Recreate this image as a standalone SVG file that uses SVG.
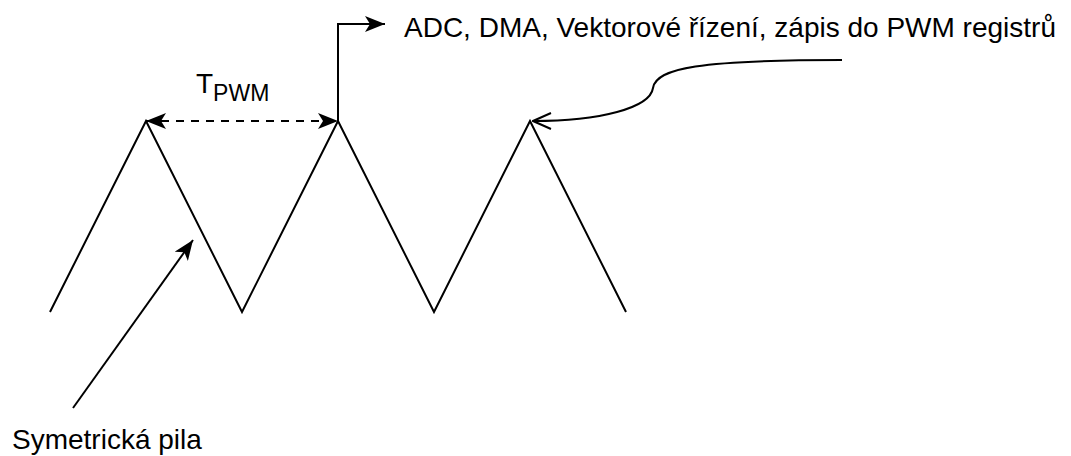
<svg xmlns="http://www.w3.org/2000/svg" width="1071" height="456" viewBox="0 0 1071 456">
  <defs>
    <style>
      .ln { fill: none; stroke: #000; stroke-width: 2; stroke-linejoin: miter; }
      .txt { font-family: "Liberation Sans", Arial, sans-serif; fill: #000; }
    </style>
    <marker id="classic" viewBox="0 0 20 16" refX="20" refY="8" markerWidth="20" markerHeight="16" markerUnits="userSpaceOnUse" orient="auto-start-reverse">
      <path d="M0,0 L20,8 L0,16 L5,8 Z" fill="#000"/>
    </marker>
    <marker id="open" viewBox="0 0 20 20" refX="19" refY="10" markerWidth="20" markerHeight="20" markerUnits="userSpaceOnUse" orient="auto">
      <path d="M1,2 L19,10 L1,18" fill="none" stroke="#000" stroke-width="2"/>
    </marker>
  </defs>
  <rect width="1071" height="456" fill="#fff"/>

  <g id="saw">
    <polyline class="ln" points="50,312 146,121 242,312 338,121 434,312 530,121 626,312"/>
  </g>

  <g id="label-tpwm">
    <text class="txt" x="196" y="93" font-size="28">T<tspan font-size="23" dy="8">PWM</tspan></text>
  </g>

  <g id="label-adc">
    <text class="txt" x="404" y="37" font-size="28">ADC, DMA, Vektorové řízení, zápis do PWM registrů</text>
  </g>

  <g id="label-pila">
    <text class="txt" x="12" y="449" font-size="28">Symetrická pila</text>
  </g>

  <g id="connectors">
    <line class="ln" x1="146" y1="121" x2="338" y2="121" stroke-dasharray="8 7" marker-start="url(#classic)" marker-end="url(#classic)"/>
    <polyline class="ln" points="338,121 338,24 385,24" marker-end="url(#classic)"/>
    <line class="ln" x1="73" y1="408" x2="193" y2="240" marker-end="url(#classic)"/>
    <path class="ln" d="M842,60 C700,60 656,68 653,88 C650,108 600,121 533,121" marker-end="url(#open)"/>
  </g>
</svg>
